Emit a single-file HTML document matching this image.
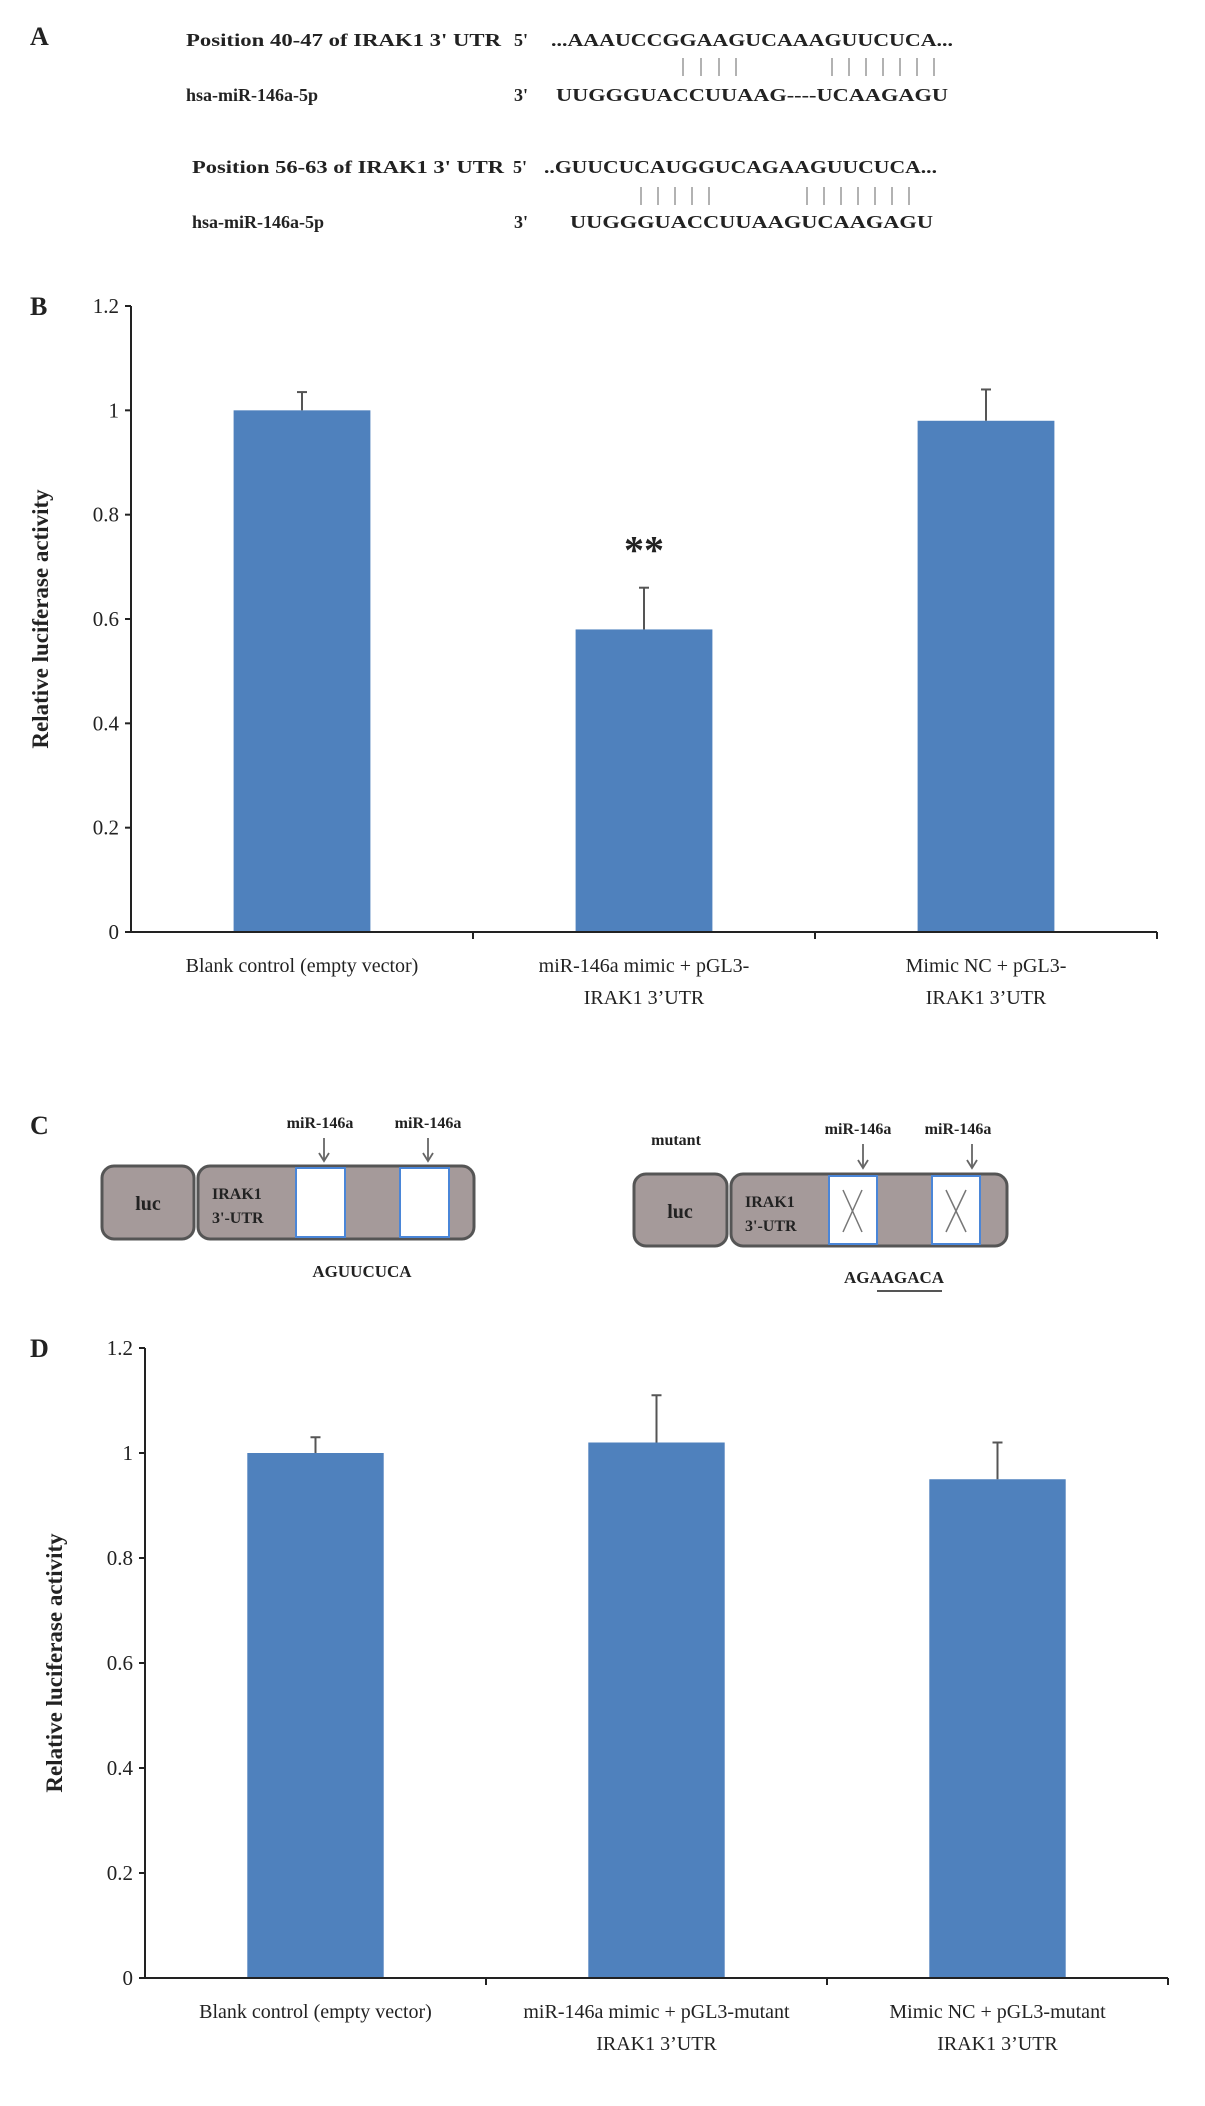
<!DOCTYPE html>
<html><head><meta charset="utf-8">
<style>
html,body{margin:0;padding:0;background:#fff;}
body{width:1205px;height:2101px;overflow:hidden;font-family:"Liberation Serif",serif;}
svg text{font-family:"Liberation Serif",serif;fill:#222;}
</style></head>
<body>
<svg id="fig" width="1205" height="2101" viewBox="0 0 1205 2101">
<g font-size="18" font-weight="bold">
  <text x="30" y="45" font-size="26">A</text>
  <text x="186" y="46" textLength="315" lengthAdjust="spacingAndGlyphs">Position 40-47 of IRAK1 3' UTR</text>
  <text x="514" y="46">5'</text>
  <text x="551" y="46" textLength="402" lengthAdjust="spacingAndGlyphs">...AAAUCCGGAAGUCAAAGUUCUCA...</text>
  <g stroke="#999" stroke-width="1.5">
    <line x1="683" y1="58" x2="683" y2="76"/><line x1="701" y1="58" x2="701" y2="76"/><line x1="719" y1="58" x2="719" y2="76"/><line x1="736" y1="58" x2="736" y2="76"/>
    <line x1="832" y1="58" x2="832" y2="76"/><line x1="849" y1="58" x2="849" y2="76"/><line x1="866" y1="58" x2="866" y2="76"/><line x1="883" y1="58" x2="883" y2="76"/><line x1="900" y1="58" x2="900" y2="76"/><line x1="917" y1="58" x2="917" y2="76"/><line x1="934" y1="58" x2="934" y2="76"/>
  </g>
  <text x="186" y="101">hsa-miR-146a-5p</text>
  <text x="514" y="101">3'</text>
  <text x="556" y="101" textLength="392" lengthAdjust="spacingAndGlyphs">UUGGGUACCUUAAG----UCAAGAGU</text>

  <text x="192" y="173" textLength="312" lengthAdjust="spacingAndGlyphs">Position 56-63 of IRAK1 3' UTR</text>
  <text x="513" y="173">5'</text>
  <text x="544" y="173" textLength="393" lengthAdjust="spacingAndGlyphs">..GUUCUCAUGGUCAGAAGUUCUCA...</text>
  <g stroke="#999" stroke-width="1.5">
    <line x1="641" y1="187" x2="641" y2="205"/><line x1="658" y1="187" x2="658" y2="205"/><line x1="675" y1="187" x2="675" y2="205"/><line x1="692" y1="187" x2="692" y2="205"/><line x1="709" y1="187" x2="709" y2="205"/>
    <line x1="807" y1="187" x2="807" y2="205"/><line x1="824" y1="187" x2="824" y2="205"/><line x1="841" y1="187" x2="841" y2="205"/><line x1="858" y1="187" x2="858" y2="205"/><line x1="875" y1="187" x2="875" y2="205"/><line x1="892" y1="187" x2="892" y2="205"/><line x1="909" y1="187" x2="909" y2="205"/>
  </g>
  <text x="192" y="228">hsa-miR-146a-5p</text>
  <text x="514" y="228">3'</text>
  <text x="570" y="228" textLength="363" lengthAdjust="spacingAndGlyphs">UUGGGUACCUUAAGUCAAGAGU</text>
</g>

<g id="chartB"></g>

<g font-weight="bold">
  <text x="30" y="1134" font-size="26">C</text>
  <g>
    <rect x="102" y="1166" width="92" height="73" rx="12" fill="#a59a9a" stroke="#555" stroke-width="3"/>
    <text x="148" y="1210" font-size="20" text-anchor="middle">luc</text>
    <rect x="198" y="1166" width="276" height="73" rx="12" fill="#a59a9a" stroke="#555" stroke-width="3"/>
    <rect x="296" y="1168" width="49" height="69" fill="#fff" stroke="#4a86d8" stroke-width="2"/>
    <rect x="400" y="1168" width="49" height="69" fill="#fff" stroke="#4a86d8" stroke-width="2"/>
    <text x="212" y="1199" font-size="16">IRAK1</text>
    <text x="212" y="1223" font-size="16">3'-UTR</text>
    <text x="320" y="1128" font-size="16" text-anchor="middle">miR-146a</text>
    <text x="428" y="1128" font-size="16" text-anchor="middle">miR-146a</text>
    <g stroke="#666" stroke-width="1.8" fill="none">
      <line x1="324" y1="1138" x2="324" y2="1160"/><polyline points="319,1153 324,1161 329,1153"/>
      <line x1="428" y1="1138" x2="428" y2="1160"/><polyline points="423,1153 428,1161 433,1153"/>
    </g>
    <text x="362" y="1277" font-size="17" text-anchor="middle">AGUUCUCA</text>
  </g>
  <g>
    <text x="676" y="1145" font-size="16" text-anchor="middle">mutant</text>
    <rect x="634" y="1174" width="93" height="72" rx="12" fill="#a59a9a" stroke="#555" stroke-width="3"/>
    <text x="680" y="1218" font-size="20" text-anchor="middle">luc</text>
    <rect x="731" y="1174" width="276" height="72" rx="12" fill="#a59a9a" stroke="#555" stroke-width="3"/>
    <rect x="829" y="1176" width="48" height="68" fill="#fff" stroke="#4a86d8" stroke-width="2"/>
    <rect x="932" y="1176" width="48" height="68" fill="#fff" stroke="#4a86d8" stroke-width="2"/>
    <g stroke="#777" stroke-width="1.5">
      <line x1="843" y1="1190" x2="862" y2="1232"/><line x1="862" y1="1190" x2="843" y2="1232"/>
      <line x1="946" y1="1190" x2="966" y2="1232"/><line x1="966" y1="1190" x2="946" y2="1232"/>
    </g>
    <text x="745" y="1207" font-size="16">IRAK1</text>
    <text x="745" y="1231" font-size="16">3'-UTR</text>
    <text x="858" y="1134" font-size="16" text-anchor="middle">miR-146a</text>
    <text x="958" y="1134" font-size="16" text-anchor="middle">miR-146a</text>
    <g stroke="#666" stroke-width="1.8" fill="none">
      <line x1="863" y1="1144" x2="863" y2="1167"/><polyline points="858,1160 863,1168 868,1160"/>
      <line x1="972" y1="1144" x2="972" y2="1167"/><polyline points="967,1160 972,1168 977,1160"/>
    </g>
    <text x="894" y="1283" font-size="17" text-anchor="middle">AGAAGACA</text>
    <line x1="877" y1="1291" x2="942" y2="1291" stroke="#555" stroke-width="2"/>
  </g>
</g>

<g id="chartD"></g>
</svg>
<script>
// Chart B data
const catsB = [["Blank control (empty vector)"],["miR-146a mimic + pGL3-","IRAK1 3\u2019UTR"],["Mimic NC + pGL3-","IRAK1 3\u2019UTR"]];
const valsB = [1.0, 0.58, 0.98];
const errsB = [0.035, 0.08, 0.06];
// Chart D data
const catsD = [["Blank control (empty vector)"],["miR-146a mimic + pGL3-mutant","IRAK1 3\u2019UTR"],["Mimic NC + pGL3-mutant","IRAK1 3\u2019UTR"]];
const valsD = [1.0, 1.02, 0.95];
const errsD = [0.03, 0.09, 0.07];
const yTicks = ["0","0.2","0.4","0.6","0.8","1","1.2"];
const yTickVals = [0,0.2,0.4,0.6,0.8,1,1.2];

const NS="http://www.w3.org/2000/svg";
function mk(parent, tag, attrs, text){
  const e=document.createElementNS(NS,tag);
  for(const k in attrs) e.setAttribute(k,attrs[k]);
  if(text!==undefined) e.textContent=text;
  parent.appendChild(e); return e;
}
function drawChart(g, cfg, cats, vals, errs, sig){
  const {x0,x1,yTop,yBot,label,labelY,titleX} = cfg;
  const yScale = v => yBot - (v/1.2)*(yBot-yTop);
  const slot = (x1-x0)/cats.length;
  const xCenter = i => x0 + slot*(i+0.5);
  const bw = slot*0.4;
  let t = mk(g,'text',{x:30,y:yTop+9,'font-size':26,'font-weight':'bold'},label);
  
  
  vals.forEach((v,i)=>{
    const cx=xCenter(i);
    const r=mk(g,'rect',{x:cx-bw/2,y:yScale(v),width:bw,height:yBot-yScale(v),fill:'#4f81bd'});
    
    
    const eg=mk(g,'g',{stroke:'#555','stroke-width':2});
    
    
    mk(eg,'line',{x1:cx,y1:yScale(v),x2:cx,y2:yScale(v+errs[i])});
    mk(eg,'line',{x1:cx-5,y1:yScale(v+errs[i]),x2:cx+5,y2:yScale(v+errs[i])});
    cats[i].forEach((ln,j)=>{
      const tx=mk(g,'text',{x:cx,y:labelY+j*32,'font-size':20,'text-anchor':'middle'},ln);
      
      
    });
  });
  if(sig){
    const s=mk(g,'text',{x:xCenter(sig.i),y:yScale(vals[sig.i]+errs[sig.i])-24,'font-size':40,'font-weight':'bold','text-anchor':'middle'},sig.text);
    
    
  }
  const ax=mk(g,'g',{stroke:'#222','stroke-width':2,fill:'none'});
  
  
  mk(ax,'line',{x1:x0,y1:yTop,x2:x0,y2:yBot+1});
  mk(ax,'line',{x1:x0-6,y1:yBot,x2:x1,y2:yBot});
  for(let i=1;i<=cats.length;i++) mk(ax,'line',{x1:x0+slot*i,y1:yBot,x2:x0+slot*i,y2:yBot+7});
  yTickVals.forEach((v,i)=>{
    mk(ax,'line',{x1:x0-6,y1:yScale(v),x2:x0,y2:yScale(v)});
    const tl=mk(g,'text',{x:x0-12,y:yScale(v)+7,'font-size':21,'text-anchor':'end'},yTicks[i]);
    
    
  });
  const yt=mk(g,'text',{x:0,y:0,'font-size':23,'font-weight':'bold','text-anchor':'middle',transform:`translate(${titleX},${(yTop+yBot)/2}) rotate(-90)`},'Relative luciferase activity');
  
  
}
drawChart(document.getElementById('chartB'),{x0:131,x1:1157,yTop:306,yBot:932,label:'B',labelY:972,titleX:48},catsB,valsB,errsB,{i:1,text:'**'});
drawChart(document.getElementById('chartD'),{x0:145,x1:1168,yTop:1348,yBot:1978,label:'D',labelY:2018,titleX:62},catsD,valsD,errsD,null);
</script>
</body></html>
